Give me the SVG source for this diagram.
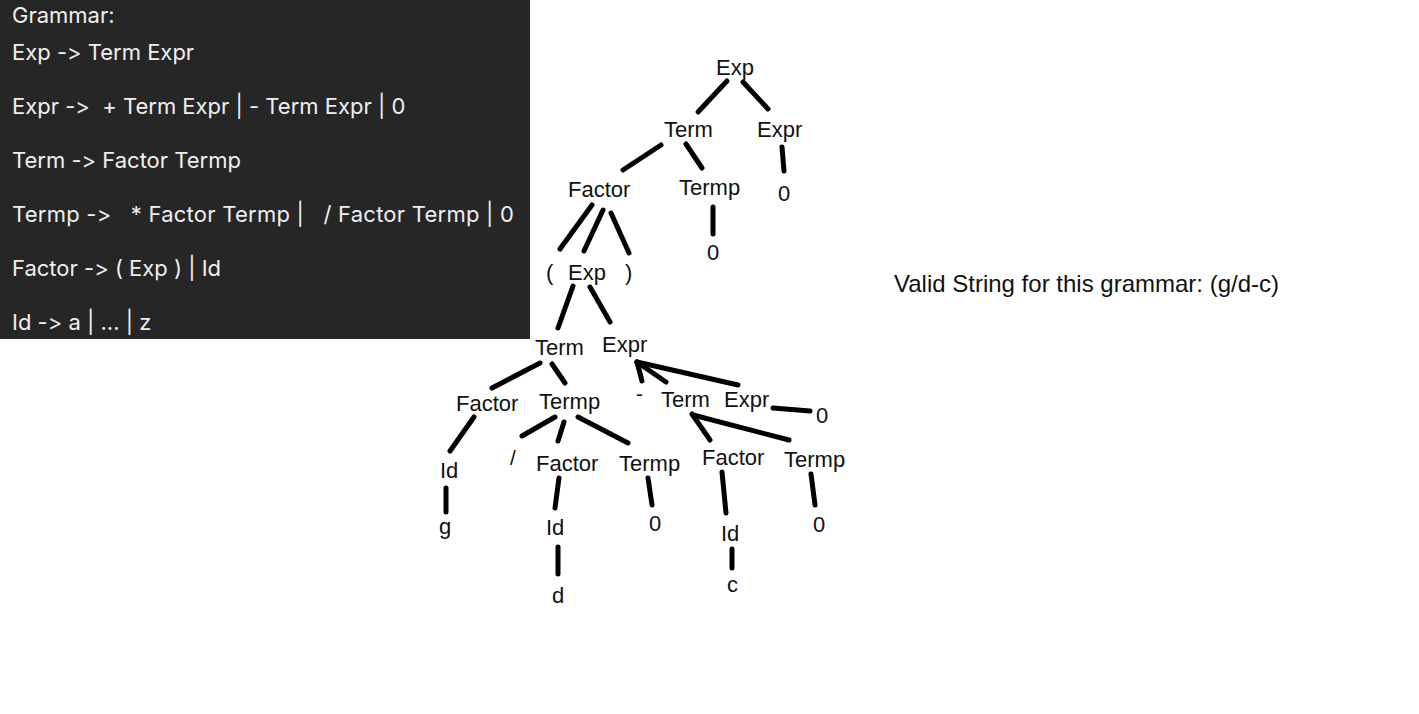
<svg xmlns="http://www.w3.org/2000/svg" width="1419" height="714" viewBox="0 0 1419 714">
<style>
.g{font-family:Inter,"Noto Sans","Liberation Sans",sans-serif;font-size:22px;fill:#efefef;white-space:pre;font-feature-settings:"calt" 0,"liga" 0;font-variant-ligatures:none}
.n{font-family:"Liberation Sans",Arial,sans-serif;font-size:22px;fill:#111}
.s{font-family:"Liberation Sans",Arial,sans-serif;font-size:21px;fill:#111}
.v{font-family:"Liberation Sans",Arial,sans-serif;font-size:24px;fill:#111}
#edges line{stroke:#000;stroke-width:5;stroke-linecap:round}
</style>
<rect width="1419" height="714" fill="#fff"/>
<g id="grammar">
<rect x="0" y="0" width="530" height="339" fill="#262626"/>
<text class="g" x="12" y="23">Grammar:</text>
<text class="g" x="12" y="60">Exp -&gt; Term Expr</text>
<text class="g" x="12" y="114">Expr -&gt;  + Term Expr | - Term Expr | 0</text>
<text class="g" x="12" y="168">Term -&gt; Factor Termp</text>
<text class="g" x="12" y="222" textLength="502" lengthAdjust="spacing">Termp -&gt;   * Factor Termp |   / Factor Termp | 0</text>
<text class="g" x="12" y="276">Factor -&gt; ( Exp ) | Id</text>
<text class="g" x="12" y="330">Id -&gt; a | ... | z</text>
</g>
<g id="edges">
<line x1="727" y1="81" x2="698" y2="112"/>
<line x1="743" y1="82" x2="768" y2="109"/>
<line x1="661" y1="145" x2="623" y2="170"/>
<line x1="686" y1="144" x2="702" y2="168"/>
<line x1="782" y1="147" x2="784" y2="171"/>
<line x1="592" y1="205" x2="560" y2="249"/>
<line x1="603" y1="210" x2="584" y2="251"/>
<line x1="611" y1="213" x2="629" y2="253"/>
<line x1="713" y1="207" x2="713" y2="234"/>
<line x1="573" y1="286" x2="558" y2="328"/>
<line x1="590" y1="287" x2="610" y2="322"/>
<line x1="540" y1="363" x2="492" y2="388"/>
<line x1="552" y1="364" x2="565" y2="383"/>
<line x1="474" y1="417" x2="450" y2="451"/>
<line x1="446" y1="488" x2="446" y2="512"/>
<line x1="555" y1="417" x2="522" y2="436"/>
<line x1="564" y1="422" x2="558" y2="441"/>
<line x1="578" y1="417" x2="628" y2="443"/>
<line x1="559" y1="478" x2="555" y2="508"/>
<line x1="558" y1="547" x2="558" y2="574"/>
<line x1="637" y1="362" x2="738" y2="385"/>
<line x1="637" y1="362" x2="666" y2="382"/>
<line x1="637" y1="362" x2="642" y2="381"/>
<line x1="773" y1="408" x2="810" y2="411"/>
<line x1="692" y1="414" x2="710" y2="440"/>
<line x1="693" y1="415" x2="789" y2="440"/>
<line x1="648" y1="478" x2="652" y2="505"/>
<line x1="722" y1="472" x2="726" y2="513"/>
<line x1="732" y1="549" x2="732" y2="568"/>
<line x1="811" y1="474" x2="815" y2="505"/>
</g>
<g id="n1"><text class="n" x="716" y="75">Exp</text></g>
<g id="n2"><text class="n" x="664" y="137">Term</text></g>
<g id="n3"><text class="n" x="757" y="137">Expr</text></g>
<g id="n4"><text class="n" x="568" y="197">Factor</text></g>
<g id="n5"><text class="n" x="679" y="195">Termp</text></g>
<g id="n6"><text class="n" x="778" y="201">0</text></g>
<g id="n7"><text class="n" x="707" y="260">0</text></g>
<g id="n8"><text class="n" x="546" y="280">(</text></g>
<g id="n9"><text class="n" x="568" y="280">Exp</text></g>
<g id="n10"><text class="n" x="625" y="280">)</text></g>
<g id="n11"><text class="n" x="535" y="355">Term</text></g>
<g id="n12"><text class="n" x="602" y="352">Expr</text></g>
<g id="n13"><text class="n" x="456" y="411">Factor</text></g>
<g id="n14"><text class="n" x="539" y="409">Termp</text></g>
<g id="n15"><text class="s" x="636" y="401">-</text></g>
<g id="n16"><text class="n" x="661" y="407">Term</text></g>
<g id="n17"><text class="n" x="724" y="407">Expr</text></g>
<g id="n18"><text class="n" x="816" y="423">0</text></g>
<g id="n19"><text class="n" x="440" y="478">Id</text></g>
<g id="n20"><text class="s" x="510" y="465">/</text></g>
<g id="n21"><text class="n" x="536" y="471">Factor</text></g>
<g id="n22"><text class="n" x="619" y="471">Termp</text></g>
<g id="n23"><text class="n" x="702" y="465">Factor</text></g>
<g id="n24"><text class="n" x="784" y="467">Termp</text></g>
<g id="n25"><text class="n" x="439" y="534">g</text></g>
<g id="n26"><text class="n" x="546" y="535">Id</text></g>
<g id="n27"><text class="n" x="649" y="531">0</text></g>
<g id="n28"><text class="n" x="721" y="541">Id</text></g>
<g id="n29"><text class="n" x="813" y="532">0</text></g>
<g id="n30"><text class="n" x="552" y="603">d</text></g>
<g id="n31"><text class="n" x="727" y="592">c</text></g>
<g id="note"><text class="v" x="894" y="292">Valid String for this grammar: (g/d-c)</text></g>
</svg>
